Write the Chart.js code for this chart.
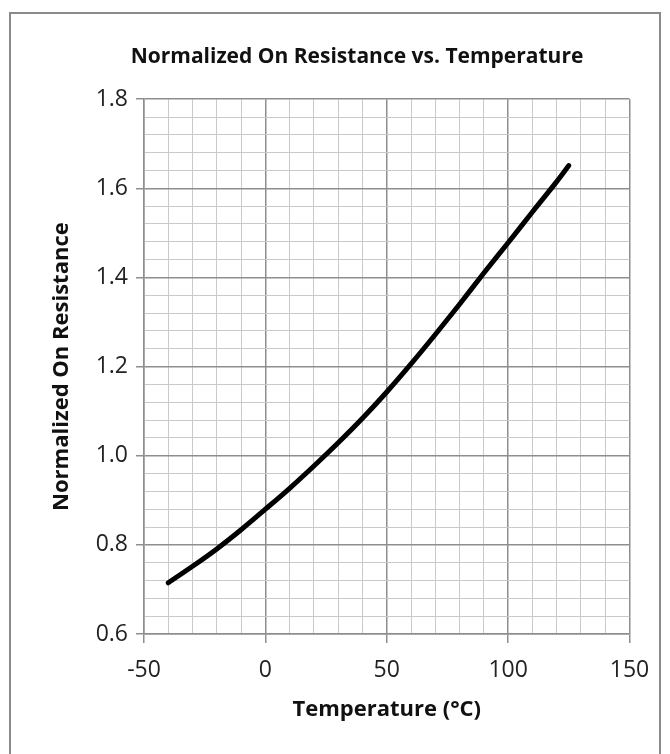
<!DOCTYPE html>
<html>
<head>
<meta charset="utf-8">
<script src="https://cdn.jsdelivr.net/npm/chart.js@4.4.1/dist/chart.umd.min.js"></script>
<style>
  html, body { margin: 0; padding: 0; background: #fff; }
</style>
</head>
<body>
<canvas id="chart" width="670" height="754"></canvas>
<script>
// Valores (temperatura en C, resistencia normalizada)
const temperatures = [-40, -30, -20, -10, 0, 10, 20, 30, 40, 50, 60, 70, 80, 90, 100, 110, 120, 125];
const resistance = [0.715, 0.752, 0.791, 0.834, 0.880, 0.927, 0.977, 1.029, 1.084, 1.143, 1.206, 1.272, 1.340, 1.410, 1.478, 1.547, 1.615, 1.651];

// Marcas con etiqueta (las demas lineas son rejilla menor)
const xTickLabels = [-50, 0, 50, 100, 150];
const yTickLabels = [0.6, 0.8, 1.0, 1.2, 1.4, 1.6, 1.8];

const majorColor = '#8e8e8e';
const minorColor = '#c9c9c9';
const fontFamily = '"Open Sans", "Noto Sans", sans-serif';

function isMajorX(v) {
    return xTickLabels.some(t => Math.abs(t - v) < 1e-6);
}
function isMajorY(v) {
    return yTickLabels.some(t => Math.abs(t - v) < 1e-6);
}

// Marco gris alrededor del grafico, como en la captura original
const framePlugin = {
    id: 'frame',
    beforeDraw(chart) {
        const ctx = chart.ctx;
        ctx.save();
        ctx.fillStyle = '#fff';
        ctx.fillRect(0, 0, chart.width, chart.height);
        ctx.restore();
    },
    afterDraw(chart) {
        const ctx = chart.ctx;
        ctx.save();
        ctx.strokeStyle = '#8a8a8a';
        ctx.lineWidth = 2;
        ctx.beginPath();
        ctx.moveTo(10, chart.height);
        ctx.lineTo(10, 13);
        ctx.lineTo(660, 13);
        ctx.lineTo(660, chart.height);
        ctx.stroke();
        ctx.restore();
    }
};

const points = temperatures.map((t, i) => ({ x: t, y: resistance[i] }));

const chart = new Chart(document.getElementById('chart').getContext('2d'), {
    type: 'scatter',
    data: {
        datasets: [{
            data: points,
            showLine: true,
            borderColor: '#000',
            borderWidth: 5,
            borderCapStyle: 'round',
            pointRadius: 0,
            tension: 0.4,
            cubicInterpolationMode: 'monotone'
        }]
    },
    options: {
        responsive: false,
        animation: false,
        layout: { padding: { left: 44, right: 0, top: 0, bottom: 0 } },
        plugins: {
            legend: { display: false },
            tooltip: { enabled: false },
            title: {
                display: true,
                text: 'Normalized On Resistance vs. Temperature',
                color: '#111',
                font: { family: fontFamily, size: 21, weight: 'bold' },
                padding: { top: 44, bottom: 30 }
            }
        },
        scales: {
            x: {
                type: 'linear',
                min: -50,
                max: 150,
                afterFit: s => { s.height = 120; },
                ticks: {
                    stepSize: 10,
                    autoSkip: false,
                    maxRotation: 0,
                    padding: 14,
                    color: '#222',
                    font: { family: fontFamily, size: 23 },
                    callback: v => isMajorX(v) ? String(v) : ''
                },
                grid: {
                    color: c => isMajorX(c.tick.value) ? majorColor : minorColor,
                    lineWidth: c => isMajorX(c.tick.value) ? 1.5 : 1,
                    tickLength: 9,
                    tickColor: c => isMajorX(c.tick.value) ? majorColor : 'rgba(0,0,0,0)'
                },
                border: { color: majorColor, width: 1.5 },
                title: {
                    display: true,
                    text: 'Temperature (°C)',
                    color: '#111',
                    font: { family: fontFamily, size: 22, weight: 'bold' },
                    padding: { top: 0, bottom: 31 }
                }
            },
            y: {
                type: 'linear',
                min: 0.6,
                max: 1.8,
                afterFit: s => { s.width = 100; },
                ticks: {
                    stepSize: 0.04,
                    autoSkip: false,
                    padding: 8,
                    color: '#222',
                    font: { family: fontFamily, size: 23 },
                    callback: v => isMajorY(v) ? v.toFixed(1) : ''
                },
                grid: {
                    color: c => isMajorY(c.tick.value) ? majorColor : minorColor,
                    lineWidth: c => isMajorY(c.tick.value) ? 1.5 : 1,
                    tickLength: 8,
                    tickColor: c => isMajorY(c.tick.value) ? majorColor : 'rgba(0,0,0,0)'
                },
                border: { color: majorColor, width: 1.5 },
                title: {
                    display: true,
                    text: 'Normalized On Resistance',
                    color: '#111',
                    font: { family: fontFamily, size: 22, weight: 'bold' },
                    padding: { top: 5, bottom: 0 }
                }
            },
            // eje vacio a la derecha para reservar el margen y centrar el titulo
            spacer: {
                type: 'linear',
                position: 'right',
                min: 0,
                max: 1,
                afterFit: s => { s.width = 40.5; },
                ticks: { display: false },
                grid: { display: false },
                border: { display: false }
            }
        }
    },
    plugins: [framePlugin]
});
</script>
</body>
</html>
